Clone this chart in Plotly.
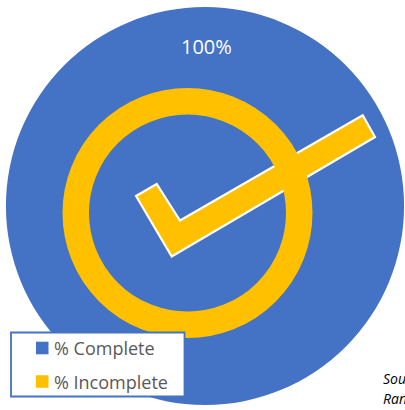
import plotly.graph_objects as go

# Completion status data
labels = ["% Complete", "% Incomplete"]
values = [100, 0]
colors = ["#4472C4", "#FFC000"]
source_lines = ["Source:", "Random data"]

total = sum(values)
pct_complete = round(100 * values[0] / total)

W, H = 405, 410
BLUE, YELLOW, GREY = colors[0], colors[1], "#595959"
FONT = "Open Sans"

fig = go.Figure()

# The pie itself (one full slice when everything is complete)
fig.add_trace(go.Pie(
    labels=labels,
    values=values,
    marker=dict(colors=colors, line=dict(width=0)),
    textinfo="none",
    sort=False,
    direction="clockwise",
    rotation=0,
    hoverinfo="label+percent",
    showlegend=False,
    domain=dict(x=[6 / W, 404 / W], y=[1 - 405 / H, 1 - 7 / H]),
))

# Pixel-aligned helper axes for the decorative icon and legend
fig.update_layout(
    xaxis=dict(range=[0, W], visible=False, fixedrange=True, domain=[0, 1]),
    yaxis=dict(range=[H, 0], visible=False, fixedrange=True, domain=[0, 1]),
)

shapes = []
# check mark with a white outline
check = [(136, 196), (156.7, 184), (180, 220.5), (362.7, 115.3),
         (375, 137), (171.7, 256.5)]
path = "M " + " L ".join(f"{x},{y}" for x, y in check) + " Z"
shapes.append(dict(type="path", path=path, xref="x", yref="y",
                   fillcolor=YELLOW, line=dict(color="white", width=2.2),
                   layer="above"))
# ring around the check mark
cx, cy, r_out, r_in = 187.5, 213, 125, 98.5
r_mid = (r_out + r_in) / 2
shapes.append(dict(type="circle", xref="x", yref="y",
                   x0=cx - r_mid, x1=cx + r_mid, y0=cy - r_mid, y1=cy + r_mid,
                   fillcolor="rgba(0,0,0,0)",
                   line=dict(color=YELLOW, width=r_out - r_in),
                   layer="above"))
# legend box
shapes.append(dict(type="rect", xref="x", yref="y", x0=11, x1=184.5, y0=332.5, y1=396.5,
                   fillcolor="white", line=dict(color=BLUE, width=1.8), layer="above"))
annotations = []
legend_rows = [348, 381.5]
for lab, col, yc in zip(labels, colors, legend_rows):
    shapes.append(dict(type="rect", xref="x", yref="y", x0=36, x1=48.5,
                       y0=yc - 6.3, y1=yc + 6.3, fillcolor=col,
                       line=dict(width=0), layer="above"))
    annotations.append(dict(x=52, y=yc, xref="x", yref="y", text=lab,
                            showarrow=False, xanchor="left", yanchor="middle",
                            font=dict(family=FONT, size=18, color=GREY)))

# percentage label
annotations.append(dict(x=206, y=46, xref="x", yref="y", text=f"{pct_complete}%",
                        showarrow=False, xanchor="center", yanchor="middle",
                        font=dict(family=FONT, size=20, color="white")))

# source note (runs off the right edge)
for i, line in enumerate(source_lines):
    annotations.append(dict(x=381, y=378 + 20 * i, xref="x", yref="y",
                            text=f"<i>{line}</i>", showarrow=False,
                            xanchor="left", yanchor="middle",
                            font=dict(family=FONT, size=14, color="#000000")))

fig.update_layout(
    width=W, height=H,
    margin=dict(l=0, r=0, t=0, b=0, pad=0),
    paper_bgcolor="white",
    plot_bgcolor="rgba(0,0,0,0)",
    shapes=shapes,
    annotations=annotations,
    showlegend=False,
)

fig.write_html("out.html")
